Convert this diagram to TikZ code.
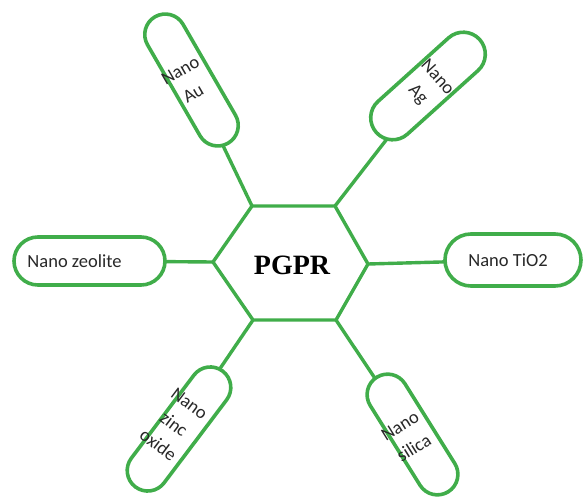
\documentclass[tikz,border=0pt]{standalone}
\usepackage{fontspec}
\setmainfont{Liberation Serif}
\newfontfamily\labelfont{Carlito}
\usetikzlibrary{backgrounds}
\definecolor{leaf}{RGB}{64,173,74}
\definecolor{ink}{RGB}{40,40,40}
% centred lines of text, moved sideways by half of #1, taking no width
\newcommand\shiftedlines[2]{\makebox[0pt]{\hspace*{#1}\begin{tabular}{@{}c@{}}#2\end{tabular}}}
\begin{document}
\begin{tikzpicture}[x=1pt,y=1pt,
  capsule/.style={draw=leaf, line width=3.6pt, fill=white, rectangle,
    inner sep=0pt, align=center, text=ink,
    font=\labelfont\fontsize{18.5}{26}\selectfont},
  link/.style={draw=leaf, line width=3.4pt},
  hexline/.style={draw=leaf, line width=3.4pt, line join=miter},
]
\useasboundingbox (0,-498) rectangle (587,0);

% central hexagon
\coordinate (hTL) at (252,-206);
\coordinate (hTR) at (335,-206);
\coordinate (hR)  at (368,-264);
\coordinate (hBR) at (336,-320);
\coordinate (hBL) at (253,-320);
\coordinate (hL)  at (213,-262);
\draw[hexline] (hTL) -- (hTR) -- (hR) -- (hBR) -- (hBL) -- (hL) -- cycle;
\node[font=\bfseries\fontsize{28}{30}\selectfont, text=black] (pgpr) at (292,-265) {PGPR};

% capsules around the hexagon
\node[capsule, minimum width=41pt, minimum height=146pt, rounded corners=20.5pt, rotate=30]
  (au) at (191.5,-80) {\shiftedlines{-10pt}{Nano\\Au}};
\node[capsule, minimum width=44pt, minimum height=139pt, rounded corners=22pt, rotate=-48]
  (ag) at (428,-86) {\shiftedlines{0pt}{Nano\\Ag}};
\node[capsule, minimum width=151pt, minimum height=48pt, rounded corners=24pt]
  (zeo) at (89.5,-261) {Nano zeolite\hspace*{30pt}};
\node[capsule, minimum width=136pt, minimum height=52pt, rounded corners=26pt]
  (tio) at (513,-260) {Nano TiO2\hspace*{10pt}};
\node[capsule, minimum width=41pt, minimum height=145pt, rounded corners=20.5pt, rotate=-37]
  (zinc) at (179,-429) {\shiftedlines{-14pt}{Nano\\zinc\\oxide}};
\node[capsule, minimum width=41pt, minimum height=135pt, rounded corners=20.5pt, rotate=32]
  (sil) at (412.5,-434.5) {\raisebox{-5pt}{\shiftedlines{-12pt}{Nano\\silica}}};

% spokes from the hexagon corners to the capsules
\begin{scope}[on background layer]
  \draw[link] (hTL) -- (au.center);
  \draw[link] (hTR) -- (ag.center);
  \draw[link] (hL) -- (zeo.center);
  \draw[link] (hR) -- (tio.center);
  \draw[link] (hBL) -- (zinc.center);
  \draw[link] (hBR) -- (sil.center);
\end{scope}
\end{tikzpicture}
\end{document}
